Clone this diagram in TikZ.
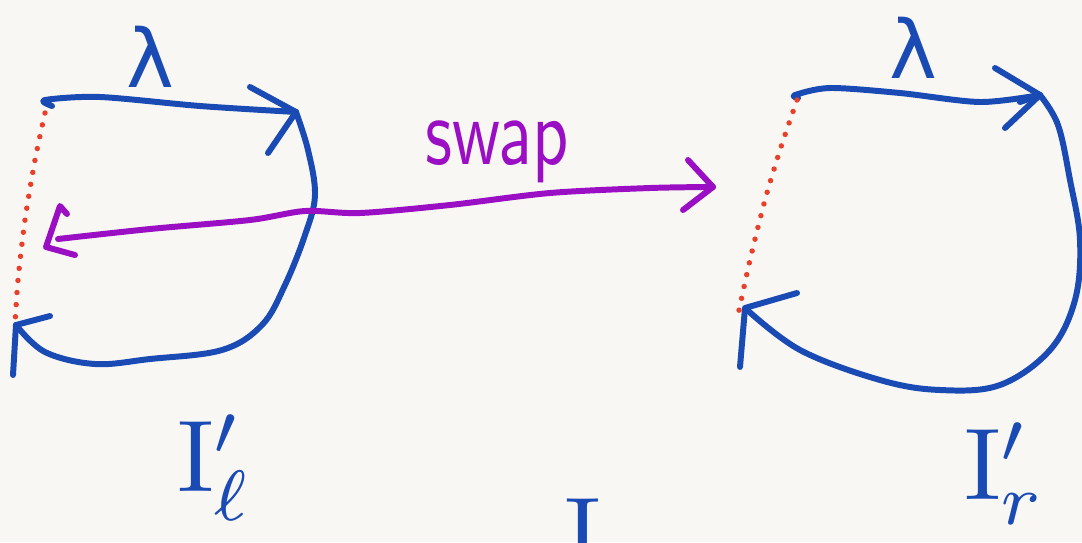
\documentclass[tikz,border=0pt]{standalone}
\usepackage{fontspec}
\newfontfamily\dejavu{DejaVu Sans}
\definecolor{bg}{HTML}{F9F7F3}
\definecolor{pen}{HTML}{1A4BB5}
\definecolor{vio}{HTML}{9B0FC4}
\definecolor{dotred}{HTML}{E8402A}
\begin{document}
\begin{tikzpicture}[x=0.02cm,y=-0.02cm,
  stroke/.style={line width=3.4pt, line cap=round, line join=round},
  bstroke/.style={stroke, draw=pen},
  vstroke/.style={stroke, draw=vio},
  dotline/.style={draw=dotred, line width=3.1pt, line cap=round, dash pattern=on 0pt off 6.9pt},
  lab/.style={text=pen, inner sep=0pt, scale=5.8},
  lam/.style={text=pen, inner sep=0pt, scale=4.6, font=\dejavu}]
\useasboundingbox (0,0) rectangle (1082,542);
\fill[bg] (0,0) rectangle (1082,542);
\clip (0,0) rectangle (1082,542);

% ---------- left loop ----------
\coordinate (LA) at (45,100);
\coordinate (LB) at (296,112);
\coordinate (LC) at (16,325);
\draw[bstroke] plot[smooth, tension=0.5] coordinates {(52,106) (LA) (100,97) (200,106) (LB)};
\draw[bstroke] (250,87) -- (LB) -- (268,153);
\draw[bstroke] plot[smooth, tension=0.6] coordinates {(LB) (308,150) (315,195) (305,235) (285,285) (262,325) (222,350) (150,359) (95,364) (45,352) (LC)};
\draw[bstroke] (50,316) -- (LC) -- (13,375);
\draw[dotline] plot[smooth] coordinates {(45,113) (35,160) (25,220) (18,280) (15,325)};
\node[lam] (lamL) at (150,57) {λ};

% ---------- right loop ----------
\coordinate (RA) at (795,95);
\coordinate (RB) at (1040,95);
\coordinate (RC) at (745,308);
\draw[bstroke] plot[smooth, tension=0.5] coordinates {(798,98) (RA) (830,88) (900,93) (980,102) (RB)};
\draw[bstroke] (995,68) -- (RB) -- (1005,128);
\draw[bstroke] (1020,102) -- (RB);
\draw[bstroke] plot[smooth, tension=0.6] coordinates {(RB) (1058,125) (1070,180) (1080,240) (1075,300) (1050,350) (1000,385) (940,390) (880,380) (800,350) (RC)};
\draw[bstroke] (797,293) -- (RC) -- (740,367);
\draw[dotline] plot[smooth] coordinates {(797,100) (780,150) (765,200) (750,260) (738,315)};
\node[lam] (lamR) at (913,48) {λ};

% ---------- swap arrow ----------
\coordinate (PR) at (713,187);
\coordinate (PL) at (58,239);
\draw[vstroke] plot[smooth, tension=0.5] coordinates {(PL) (150,229) (250,220) (305,211) (360,213) (450,205) (550,193) (650,188) (PR)};
\draw[vstroke] (688,160) -- (PR) -- (683,210);
\draw[vstroke] (67,214) -- (60,206) -- (46,247) -- (75,255);
\node[text=vio, inner sep=0pt, xscale=4, yscale=5.4, font=\sffamily] (swap) at (497,152) {swap};

% ---------- labels ----------
\node[lab] (Il) at (215,468) {$\mathrm{I}'_{\ell}$};
\node[lab] (Ir) at (1005,474) {$\mathrm{I}'_{r}$};
\node[lab, anchor=base] (Ic) at (583,568) {$\mathrm{I}$};
\end{tikzpicture}
\end{document}
